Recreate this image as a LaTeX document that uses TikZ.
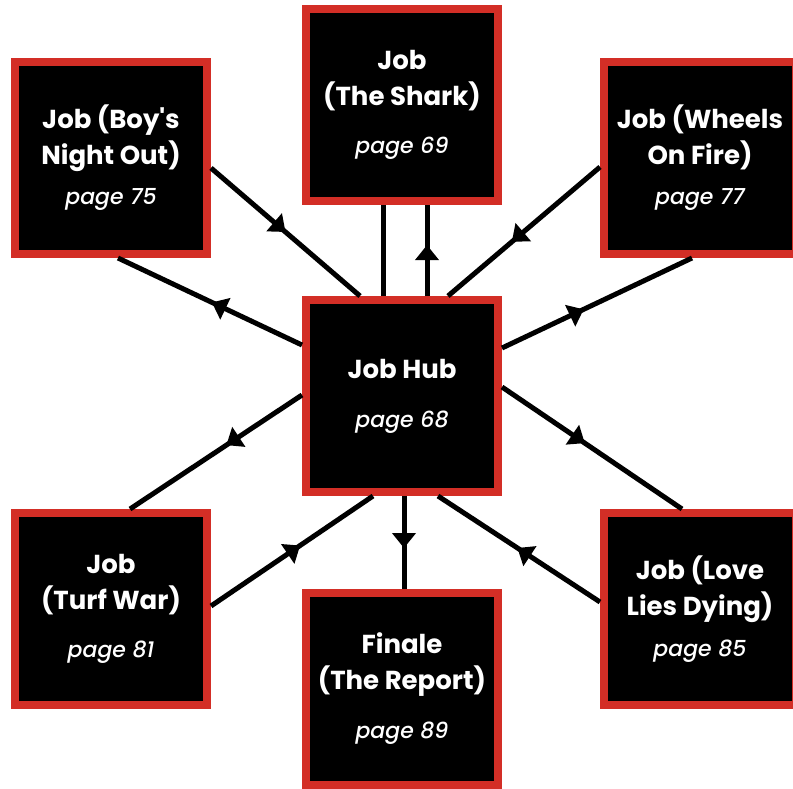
\documentclass[tikz,border=0pt]{standalone}
\usepackage{fontspec}
\setmainfont{Poppins}[Ligatures=TeXOff, ItalicFont=Poppins Medium Italic]
\usetikzlibrary{arrows.meta,decorations.markings,calc}
\definecolor{boxred}{RGB}{211,46,38}
\newcommand{\pg}[1]{{\fontsize{22}{35}\selectfont\mdseries\itshape page #1}}
\begin{document}
\begin{tikzpicture}[x=1pt,y=-1pt,
  jobbox/.style={draw=boxred, fill=black, line width=8pt,
    minimum width=192pt, minimum height=192pt, inner sep=0pt,
    text=white, align=center,
    font=\fontsize{26}{36}\selectfont\bfseries},
  link/.style={line width=5pt, draw=black},
  flow/.style={link, postaction={decorate},
    decoration={markings, mark=at position #1 with
      {\arrow{Triangle[length=15pt,width=23pt]}}}},
]
\useasboundingbox (0,0) rectangle (793,788);
\clip (0,0) rectangle (793,788);

% boxes
\node[jobbox] (hub) at (402,396) {Job Hub\\[13pt]\pg{68}};
\node[jobbox] (tc)  at (402,105) {Job\\(The Shark)\\[12pt]\pg{69}};
\node[jobbox] (tl)  at (111,158) {Job (Boy's\\Night Out)\\[4pt]\pg{75}};
\node[jobbox] (tr)  at (700,158) {Job (Wheels\\On Fire)\\[4pt]\pg{77}};
\node[jobbox] (bl)  at (111,609) {Job\\(Turf War)\\[12pt]\pg{81}};
\node[jobbox] (br)  at (700,609) {Job (Love\\Lies Dying)\\[5pt]\pg{85}};
\node[jobbox] (bc)  at (402,689) {Finale\\(The Report)\\[13pt]\pg{89}};

% connectors
\draw[flow=0.50] ($(tl.east)+(0,10)$)   -- ($(hub.north)+(-42,0)$);
\draw[flow=0.49] ($(hub.west)+(0,-51)$) -- ($(tl.south)+(7,0)$);
\draw[link]      ($(tc.south)+(-19,0)$) -- ($(hub.north)+(-19,0)$);
\draw[flow=0.56] ($(hub.north)+(25,0)$) -- ($(tc.south)+(25,0)$);
\draw[flow=0.58] ($(tr.west)+(0,9)$)    -- ($(hub.north)+(46,0)$);
\draw[flow=0.43] ($(hub.east)+(0,-48)$) -- ($(tr.south)+(-8,0)$);
\draw[flow=0.44] ($(hub.west)+(0,-1)$)  -- ($(bl.north)+(19,0)$);
\draw[flow=0.55] ($(bl.east)+(0,-3)$)   -- ($(hub.south)+(-29,0)$);
\draw[flow=0.56] ($(hub.south)+(2,0)$)  -- ($(bc.north)+(2,0)$);
\draw[flow=0.46] ($(hub.east)+(0,-9)$)  -- ($(br.north)+(-18,0)$);
\draw[flow=0.51] ($(br.west)+(0,-7)$)   -- ($(hub.south)+(36,0)$);
\end{tikzpicture}
\end{document}
